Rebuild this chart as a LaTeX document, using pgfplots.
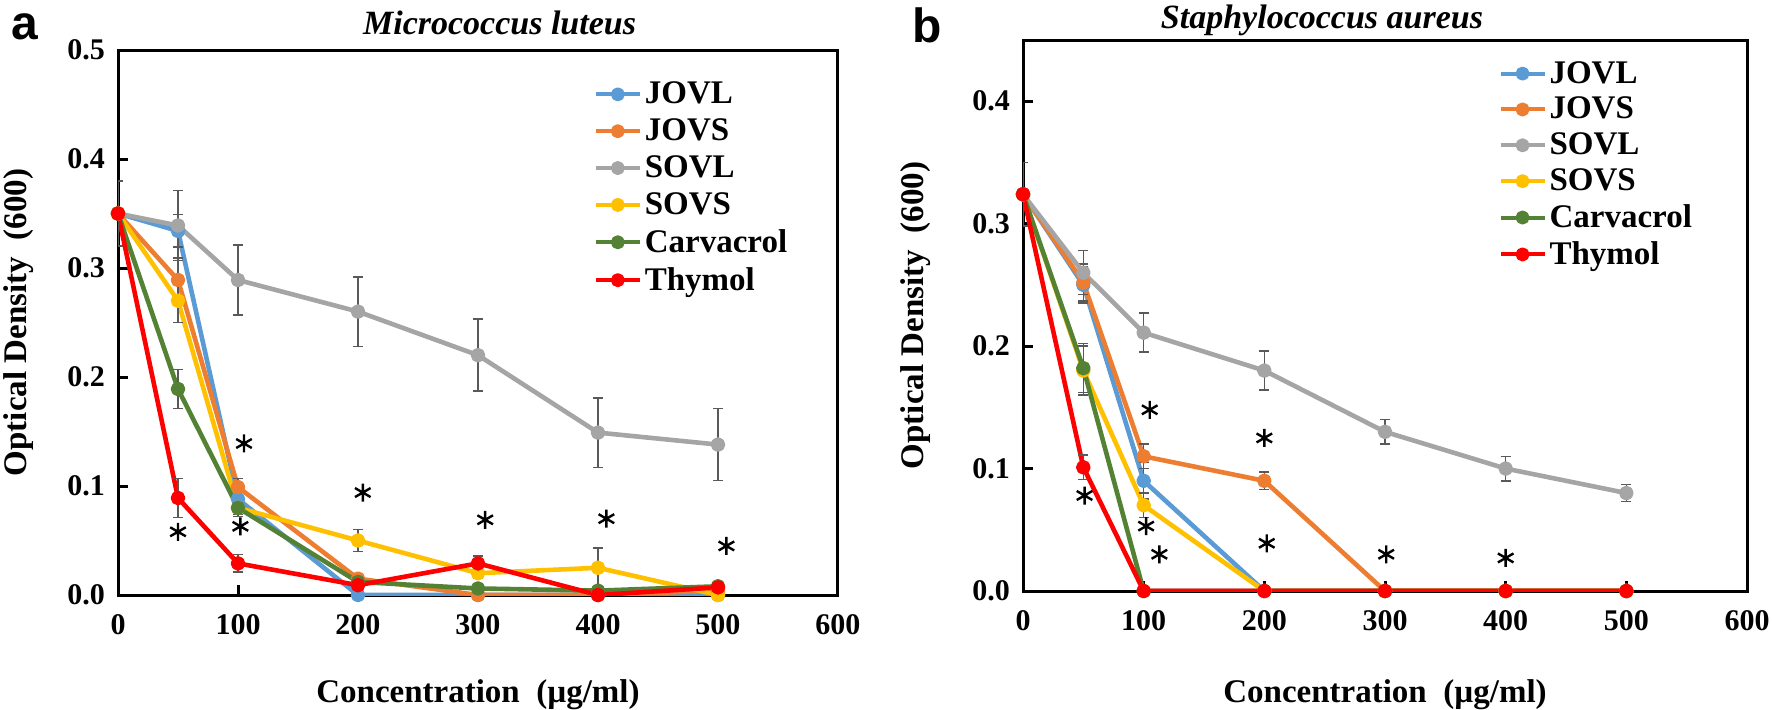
\documentclass[border=0pt]{standalone}
\usepackage{fontspec}
\setmainfont{Liberation Serif}
\newfontfamily\sansfam{Liberation Sans}
\usepackage{pgfplots}
\usepackage{pgfplotstable}
\pgfplotsset{compat=1.18}
\definecolor{cJOVL}{HTML}{5B9BD5}
\definecolor{cJOVS}{HTML}{ED7D31}
\definecolor{cSOVL}{HTML}{A5A5A5}
\definecolor{cSOVS}{HTML}{FFC000}
\definecolor{cCarv}{HTML}{548235}
\definecolor{cThy}{HTML}{FF0000}
\definecolor{errgray}{HTML}{595959}

\pgfplotstableread{
x   JOVL  eJOVL JOVS  eJOVS SOVL  eSOVL SOVS  eSOVS Carv  eCarv Thy   eThy
0   0.350 0.030 0.350 0.030 0.350 0.030 0.350 0.030 0.350 0.030 0.350 0.030
50  0.334 0.015 0.289 0.020 0.339 0.032 0.270 0.020 0.189 0.018 0.089 0.018
100 0.088 0.010 0.099 0.008 0.289 0.032 0.080 0.008 0.080 0.006 0.029 0.008
200 0.000 0.000 0.015 0.004 0.260 0.032 0.050 0.010 0.012 0.004 0.009 0.003
300 0.000 0.000 0.000 0.000 0.220 0.033 0.020 0.005 0.006 0.002 0.029 0.007
400 0.000 0.000 0.000 0.000 0.149 0.032 0.025 0.018 0.004 0.002 0.000 0.000
500 0.000 0.000 0.004 0.000 0.138 0.033 0.000 0.000 0.008 0.002 0.007 0.002
}\dataA

\pgfplotstableread{
x   JOVL  eJOVL JOVS  eJOVS SOVL  eSOVL SOVS  eSOVS Carv  eCarv Thy   eThy
0   0.324 0.026 0.324 0.026 0.324 0.026 0.324 0.026 0.324 0.026 0.324 0.026
50  0.250 0.015 0.252 0.015 0.260 0.018 0.180 0.020 0.182 0.020 0.101 0.010
100 0.090 0.015 0.110 0.010 0.211 0.016 0.070 0.010 0.000 0.000 0.000 0.000
200 0.000 0.000 0.090 0.007 0.180 0.016 0.000 0.000 0.000 0.000 0.000 0.000
300 0.000 0.000 0.000 0.000 0.130 0.010 0.000 0.000 0.000 0.000 0.000 0.000
400 0.000 0.000 0.000 0.000 0.100 0.010 0.000 0.000 0.000 0.000 0.000 0.000
500 0.000 0.000 0.000 0.000 0.080 0.007 0.000 0.000 0.000 0.000 0.000 0.000
}\dataB

\pgfplotsset{
  panel/.style={
    scale only axis, xmin=0, xmax=600, ymin=0,
    xtick={0,100,...,600},
    tick align=inside, xtick pos=bottom, ytick pos=left,
    axis line style={line width=1.5pt},
    major tick length=5pt,
    tick style={line width=1.5pt, black},
    /pgf/number format/assume math mode=true,
    ticklabel style={font=\fontsize{15}{18}\selectfont\bfseries},
    xticklabel style={yshift=-6pt},
    yticklabel style={xshift=-3pt, /pgf/number format/.cd, fixed, fixed zerofill, precision=1},
    label style={font=\fontsize{16.5}{20}\selectfont\bfseries},
    every axis title/.style={at={(0.5,1)}, anchor=center, font=\fontsize{17}{20}\selectfont\bfseries\itshape},
    xlabel={Concentration\ \ (µg/ml)},
    ylabel={Optical Density\ \ (600)},
    legend style={draw=none, fill=none, font=\fontsize{16.5}{20}\selectfont\bfseries,
      anchor=north west, legend cell align=left, row sep=3pt,
      nodes={inner sep=1.5pt}},
    legend image code/.code={\draw[#1, mark repeat=2, mark phase=2, line width=2pt] plot coordinates {(0pt,0pt) (11pt,0pt) (22pt,0pt)};},
  },
  ser/.style={line width=2.3pt, line join=round, mark=*, mark size=2.5pt,
    error bars/y dir=both, error bars/y explicit,
    error bars/error bar style={line width=0.8pt, color=errgray, solid},
    error bars/error mark options={rotate=90, mark size=2.5pt, line width=0.8pt, errgray}},
  star/.style={only marks, mark=asterisk, mark size=4.5pt, black, line width=1.2pt, forget plot},
}

\begin{document}
\begin{tikzpicture}
\path[use as bounding box] (0,0) rectangle (886pt,354.5pt);

\begin{axis}[panel, at={(59pt,57pt)}, anchor=south west,
  width=360pt, height=272.5pt, ymax=0.5, ytick={0,0.1,...,0.5},
  title={Micrococcus luteus}, title style={at={(axis description cs:0.53,1.05)}},
  xlabel style={at={(axis description cs:0.5,-0.183)}, anchor=center},
  ylabel style={at={(axis description cs:-0.138,0.5)}, anchor=center},
  legend style={at={(axis description cs:0.652,0.955)}}]
\addplot[ser, color=cJOVL] table[x=x, y=JOVL, y error=eJOVL] {\dataA};
\addlegendentry{JOVL}
\addplot[ser, color=cJOVS] table[x=x, y=JOVS, y error=eJOVS] {\dataA};
\addlegendentry{JOVS}
\addplot[ser, color=cSOVL] table[x=x, y=SOVL, y error=eSOVL] {\dataA};
\addlegendentry{SOVL}
\addplot[ser, color=cSOVS] table[x=x, y=SOVS, y error=eSOVS] {\dataA};
\addlegendentry{SOVS}
\addplot[ser, color=cCarv] table[x=x, y=Carv, y error=eCarv] {\dataA};
\addlegendentry{Carvacrol}
\addplot[ser, color=cThy] table[x=x, y=Thy, y error=eThy] {\dataA};
\addlegendentry{Thymol}
\addplot[star] coordinates {(50,0.058) (105,0.139) (102,0.063) (204,0.094) (306,0.069) (407,0.070) (507,0.045)};
\end{axis}

\begin{axis}[panel, at={(511.5pt,59pt)}, anchor=south west,
  width=362pt, height=275.5pt, ymax=0.45, ytick={0,0.1,...,0.4},
  title={Staphylococcus aureus}, title style={at={(axis description cs:0.413,1.036)}},
  xlabel style={at={(axis description cs:0.5,-0.188)}, anchor=center},
  ylabel style={at={(axis description cs:-0.148,0.5)}, anchor=center},
  legend style={at={(axis description cs:0.648,0.975)}, row sep=2.5pt}]
\addplot[ser, color=cJOVL] table[x=x, y=JOVL, y error=eJOVL] {\dataB};
\addlegendentry{JOVL}
\addplot[ser, color=cJOVS] table[x=x, y=JOVS, y error=eJOVS] {\dataB};
\addlegendentry{JOVS}
\addplot[ser, color=cSOVL] table[x=x, y=SOVL, y error=eSOVL] {\dataB};
\addlegendentry{SOVL}
\addplot[ser, color=cSOVS] table[x=x, y=SOVS, y error=eSOVS] {\dataB};
\addlegendentry{SOVS}
\addplot[ser, color=cCarv] table[x=x, y=Carv, y error=eCarv] {\dataB};
\addlegendentry{Carvacrol}
\addplot[ser, color=cThy] table[x=x, y=Thy, y error=eThy] {\dataB};
\addlegendentry{Thymol}
\addplot[star] coordinates {(51,0.078) (105,0.148) (102,0.053) (113,0.030) (200,0.125) (202,0.039) (301,0.030) (400,0.027)};
\end{axis}

\node[font=\sansfam\bfseries\fontsize{24}{28}\selectfont, anchor=center] at (12.5pt,341pt) {a};
\node[font=\sansfam\bfseries\fontsize{24}{28}\selectfont, anchor=center] at (463.5pt,342pt) {b};
\end{tikzpicture}
\end{document}
